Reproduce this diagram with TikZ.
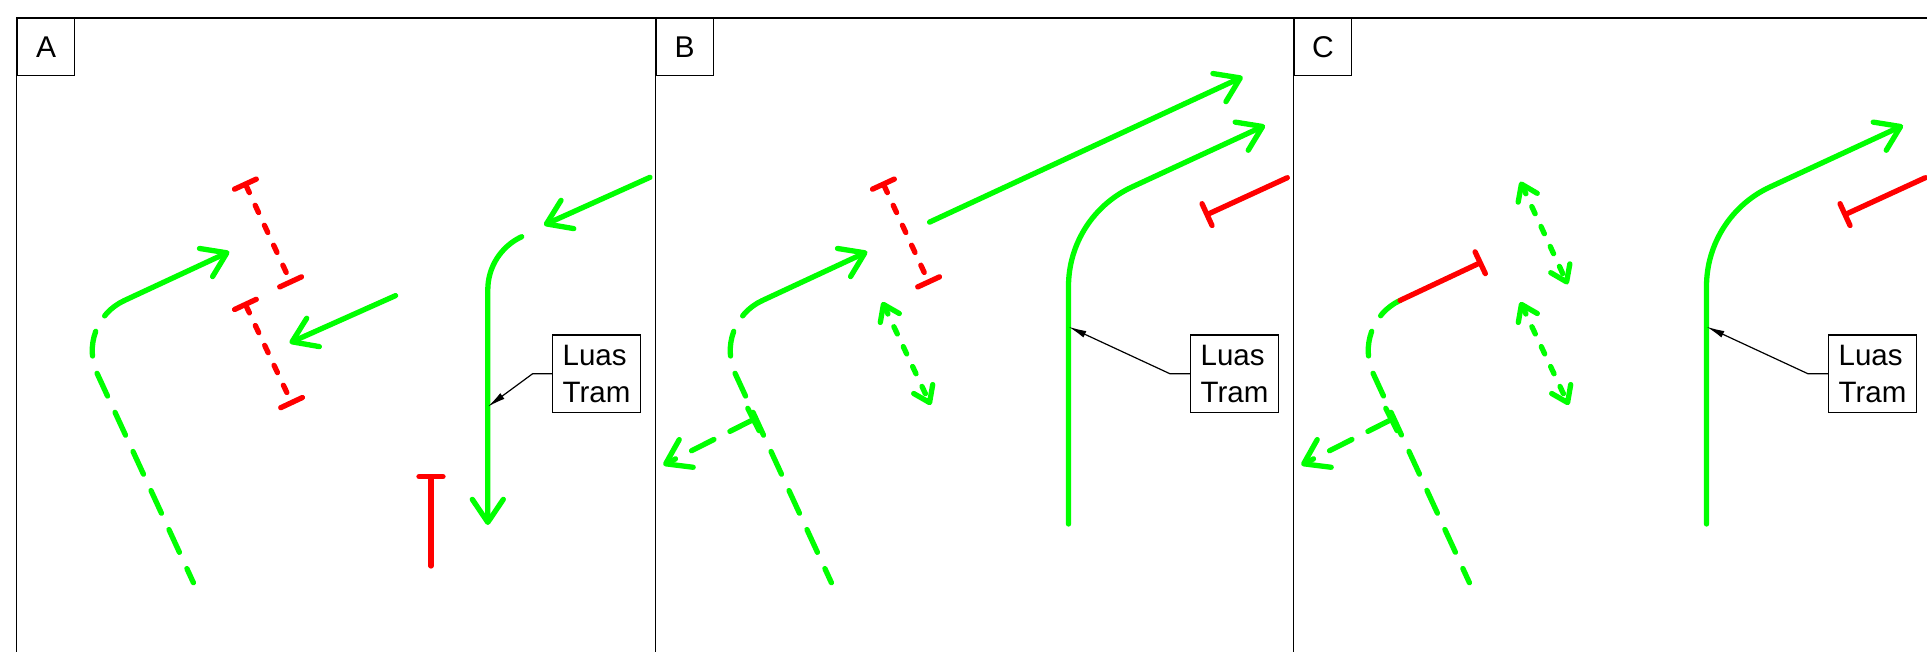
\documentclass[tikz,border=0pt]{standalone}
\usepackage{fontspec}
\setmainfont{Liberation Sans}
\usetikzlibrary{arrows.meta,calc}
\definecolor{lgreen}{RGB}{0,255,0}
\definecolor{lred}{RGB}{255,0,0}
\begin{document}
\begin{tikzpicture}[x=1pt,y=-1pt,
  frame/.style={draw=black,line width=1.3pt},
  lbl/.style={draw=black,line width=1.3pt,minimum width=57.3pt,minimum height=56.8pt,inner sep=0pt,anchor=north west,font=\fontsize{30}{36}\selectfont},
  tag/.style={draw=black,fill=white,line width=1.3pt,minimum width=87.6pt,minimum height=77.7pt,inner sep=0pt,align=left,font=\fontsize{29.5}{37.3}\selectfont},
  gline/.style={draw=lgreen,line width=5.3pt,line cap=round,line join=round},
  rline/.style={draw=lred,line width=5.3pt,line cap=round,line join=round},
  longdash/.style={dash pattern=on 25pt off 18pt},
  shortdash/.style={dash pattern=on 8pt off 14pt},
  bigtip/.style={-{Straight Barb[length=23pt,width=31pt,round]}},
  dbltip/.style={{Straight Barb[length=15pt,width=21pt,round]}-{Straight Barb[length=15pt,width=21pt,round]}},
  bartip/.style={-{Bar[width=24pt,round]}},
  barbar/.style={{Bar[width=24pt,round]}-{Bar[width=24pt,round]}},
  sidetip/.style={{Bar[width=25pt,round]}-{Straight Barb[length=23pt,width=31pt,round]}},
  leader/.style={draw=black,line width=1.2pt,-{Latex[length=18pt,width=7pt]}}
]
\useasboundingbox (0,0) rectangle (1927,651);
\clip (0,0) rectangle (1927,651);

% ---------- frames ----------
\draw[frame] (16.8,670) -- (16.8,17.9) -- (1945,17.9);
\draw[frame] (655.2,17.9) -- (655.2,670);
\draw[frame] (1293.6,17.9) -- (1293.6,670);
\node[lbl] (labA) at (16.8,17.9) {A};
\node[lbl] (labB) at (655.2,17.9) {B};
\node[lbl] (labC) at (1293.6,17.9) {C};

% ================= Panel A =================
\coordinate (aLb) at (193.4,582.7);
\coordinate (aLk) at (74.3,323.8);
\coordinate (aLt) at (229.3,251.7);
\coordinate (aP1) at ($(aLk)!55pt!(aLb)$);
\coordinate (aP2) at ($(aLk)!55pt!(aLt)$);
\draw[gline,longdash] (aP2) .. controls ($(aP2)!0.5523!(aLk)$) and ($(aP1)!0.5523!(aLk)$) .. (aP1) -- (aLb);
\draw[gline,bigtip] (aP2) -- (aLt);

\draw[rline,shortdash,barbar] (244.3,181.7) -- (291.7,284.3);
\draw[rline,shortdash,barbar] (244.3,302) -- (292.7,405);

\draw[gline,bigtip] (395.6,295.6) -- (289.6,342.9);
\draw[gline,bigtip] (650,177.3) -- (544,225);

\coordinate (aS) at (521.7,236.7);
\coordinate (aK) at (487.8,252.4);
\coordinate (aV) at (487.8,289.8);
\coordinate (aE) at (487.8,525);
\draw[gline,bigtip] (aS) .. controls ($(aS)!0.61!(aK)$) and ($(aV)!0.61!(aK)$) .. (aV) -- (aE);

\draw[rline,bartip] (431,566) -- (431,474);

\node[tag] (tagA) at (596.5,373.7) {Luas\\Tram};
\draw[leader] (tagA.west) -- ++(-19.4,0) -- (487.8,406.7);

% ================= Panel B =================
\coordinate (bLb) at (831.4,582.7);
\coordinate (bLk) at (712.3,323.8);
\coordinate (bLt) at (867.3,251.7);
\coordinate (bP1) at ($(bLk)!55pt!(bLb)$);
\coordinate (bP2) at ($(bLk)!55pt!(bLt)$);
\draw[gline,longdash] (bP2) .. controls ($(bP2)!0.5523!(bLk)$) and ($(bP1)!0.5523!(bLk)$) .. (bP1) -- (bLb);
\draw[gline,bigtip] (bP2) -- (bLt);

\draw[gline,longdash,sidetip] (755.8,418.3) -- (663.3,465);

\draw[rline,shortdash,barbar] (882.3,181.7) -- (929.7,284.3);
\draw[gline,shortdash,dbltip] (882.3,302) -- (930.7,405);

\draw[gline,bigtip] (929.6,222.1) -- (1242.7,76.8);

\coordinate (bB) at (1068.5,524);
\coordinate (bK) at (1068.5,216.4);
\coordinate (bT) at (1265,125.4);
\coordinate (bV) at ($(bK)!70pt!(bB)$);
\coordinate (bW) at ($(bK)!70pt!(bT)$);
\draw[gline,bigtip] (bB) -- (bV) .. controls ($(bV)!0.61!(bK)$) and ($(bW)!0.61!(bK)$) .. (bW) -- (bT);
\draw[rline,bartip] (1287.3,177.7) -- (1204.6,215.7);

\node[tag] (tagB) at (1234.5,373.7) {Luas\\Tram};
\draw[leader] (tagB.west) -- ++(-20.2,0) -- (1068.5,326.7);

% ================= Panel C =================
\coordinate (cLb) at (1469.4,582.7);
\coordinate (cLk) at (1350.3,323.8);
\coordinate (cLt) at (1482.6,261.6);
\coordinate (cP1) at ($(cLk)!55pt!(cLb)$);
\coordinate (cP2) at ($(cLk)!55pt!(cLt)$);
\draw[gline,longdash] (cP2) .. controls ($(cP2)!0.5523!(cLk)$) and ($(cP1)!0.5523!(cLk)$) .. (cP1) -- (cLb);
\draw[rline,bartip] (cP2) -- (cLt);

\draw[gline,longdash,sidetip] (1393.8,418.3) -- (1301.3,465);

\draw[gline,shortdash,dbltip] (1520.3,181.7) -- (1567.7,284.3);
\draw[gline,shortdash,dbltip] (1520.3,302) -- (1568.7,405);

\coordinate (cB) at (1706.5,524);
\coordinate (cK) at (1706.5,216.4);
\coordinate (cT) at (1903,125.4);
\coordinate (cV) at ($(cK)!70pt!(cB)$);
\coordinate (cW) at ($(cK)!70pt!(cT)$);
\draw[gline,bigtip] (cB) -- (cV) .. controls ($(cV)!0.61!(cK)$) and ($(cW)!0.61!(cK)$) .. (cW) -- (cT);
\draw[rline,bartip] (1925.3,177.7) -- (1842.6,215.7);

\node[tag] (tagC) at (1872.5,373.7) {Luas\\Tram};
\draw[leader] (tagC.west) -- ++(-20.2,0) -- (1706.5,326.7);
\end{tikzpicture}
\end{document}
